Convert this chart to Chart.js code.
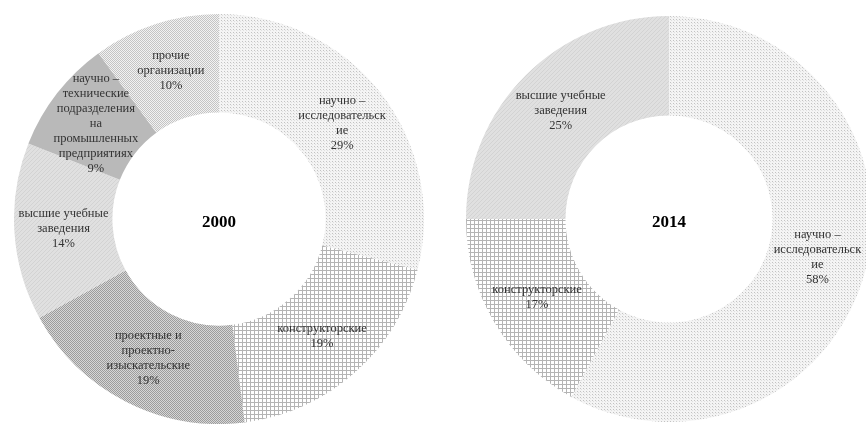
<!DOCTYPE html>
<html>
<head>
<meta charset="utf-8">
<script src="https://cdn.jsdelivr.net/npm/chart.js@4.4.1/dist/chart.umd.min.js"></script>
<style>
  html, body { margin: 0; padding: 0; background: #fff; }
  body { width: 866px; height: 424px; position: relative; overflow: hidden; }
  canvas { position: absolute; }
  #c2000 { left: 14px; top: 14px; }
  #c2014 { left: 466px; top: 16px; }
</style>
</head>
<body>
<canvas id="c2000" width="410" height="410"></canvas>
<canvas id="c2014" width="406" height="406"></canvas>
<script>
// Структура организаций, выполняющих исследования и разработки (по числу организаций)
const categories2000 = [
  ["научно –", "исследовательск", "ие"],
  ["конструкторские"],
  ["проектные и", "проектно-", "изыскательские"],
  ["высшие учебные", "заведения"],
  ["научно –", "технические", "подразделения", "на", "промышленных", "предприятиях"],
  ["прочие", "организации"]
];
const values2000 = [29, 19, 19, 14, 9, 10];
const patterns2000 = ["dots", "grid", "checker", "fine", "solid", "lightChecker"];

const categories2014 = [
  ["научно –", "исследовательск", "ие"],
  ["конструкторские"],
  ["высшие учебные", "заведения"]
];
const values2014 = [58, 17, 25];
const patterns2014 = ["dots", "grid", "fine"];

const years = ["2000", "2014"];

// Штриховки секторов
function makePattern(kind) {
  const c = document.createElement("canvas");
  const x = c.getContext("2d");
  const px = (col, i, j) => { x.fillStyle = col; x.fillRect(i, j, 1, 1); };
  if (kind === "dots") {
    c.width = 3; c.height = 3;
    x.fillStyle = "#f4f4f4"; x.fillRect(0, 0, 3, 3);
    px("#c2c2c2", 0, 0);
    px("#e0e0e0", 1, 1);
  } else if (kind === "grid") {
    c.width = 4; c.height = 4;
    x.fillStyle = "#ffffff"; x.fillRect(0, 0, 4, 4);
    x.fillStyle = "#b4b4b4"; x.fillRect(0, 0, 4, 1); x.fillRect(0, 0, 1, 4);
  } else if (kind === "checker") {
    c.width = 2; c.height = 2;
    x.fillStyle = "#d6d6d6"; x.fillRect(0, 0, 2, 2);
    px("#9c9c9c", 0, 0); px("#9c9c9c", 1, 1);
  } else if (kind === "fine") {
    c.width = 4; c.height = 4;
    x.fillStyle = "#e0e0e0"; x.fillRect(0, 0, 4, 4);
    px("#d3d3d3", 0, 3); px("#d3d3d3", 1, 2); px("#d3d3d3", 2, 1); px("#d3d3d3", 3, 0);
  } else if (kind === "solid") {
    c.width = 1; c.height = 1;
    x.fillStyle = "#b9b9b9"; x.fillRect(0, 0, 1, 1);
  } else {
    c.width = 2; c.height = 2;
    x.fillStyle = "#f2f2f2"; x.fillRect(0, 0, 2, 2);
    px("#c4c4c4", 0, 0); px("#c4c4c4", 1, 1);
  }
  return document.createElement("canvas").getContext("2d").createPattern(c, "repeat");
}

// Подписи секторов и год в центре
const sliceLabels = {
  id: "sliceLabels",
  afterDatasetsDraw(chart, args, opts) {
    const ctx = chart.ctx;
    const meta = chart.getDatasetMeta(0);
    const data = chart.data.datasets[0].data;
    const lines = chart.data.labels;
    ctx.save();
    ctx.textAlign = "center";
    ctx.textBaseline = "middle";
    ctx.font = "12.5px 'Liberation Serif', 'Times New Roman', serif";
    ctx.fillStyle = "#333333";
    const lh = 15;
    meta.data.forEach((arc, i) => {
      const p = arc.tooltipPosition();
      const txt = lines[i].concat([data[i] + "%"]);
      const y0 = p.y - (txt.length - 1) * lh / 2;
      txt.forEach((t, k) => ctx.fillText(t, p.x, y0 + k * lh));
    });
    const a = meta.data[0];
    ctx.font = "bold 17px 'Liberation Serif', 'Times New Roman', serif";
    ctx.fillStyle = "#000";
    ctx.fillText(opts.title, a.x, a.y + 4);
    ctx.restore();
  }
};

function build(id, cats, vals, pats, title, cutout) {
  new Chart(document.getElementById(id), {
    type: "doughnut",
    data: {
      labels: cats,
      datasets: [{
        data: vals,
        backgroundColor: pats.map(makePattern),
        borderWidth: 0,
        hoverOffset: 0
      }]
    },
    options: {
      responsive: false,
      animation: false,
      cutout: cutout,
      layout: { padding: 0 },
      plugins: {
        legend: { display: false },
        tooltip: { enabled: false },
        sliceLabels: { title: title }
      }
    },
    plugins: [sliceLabels]
  });
}

build("c2000", categories2000, values2000, patterns2000, years[0], "52%");
build("c2014", categories2014, values2014, patterns2014, years[1], "51%");
</script>
</body>
</html>
